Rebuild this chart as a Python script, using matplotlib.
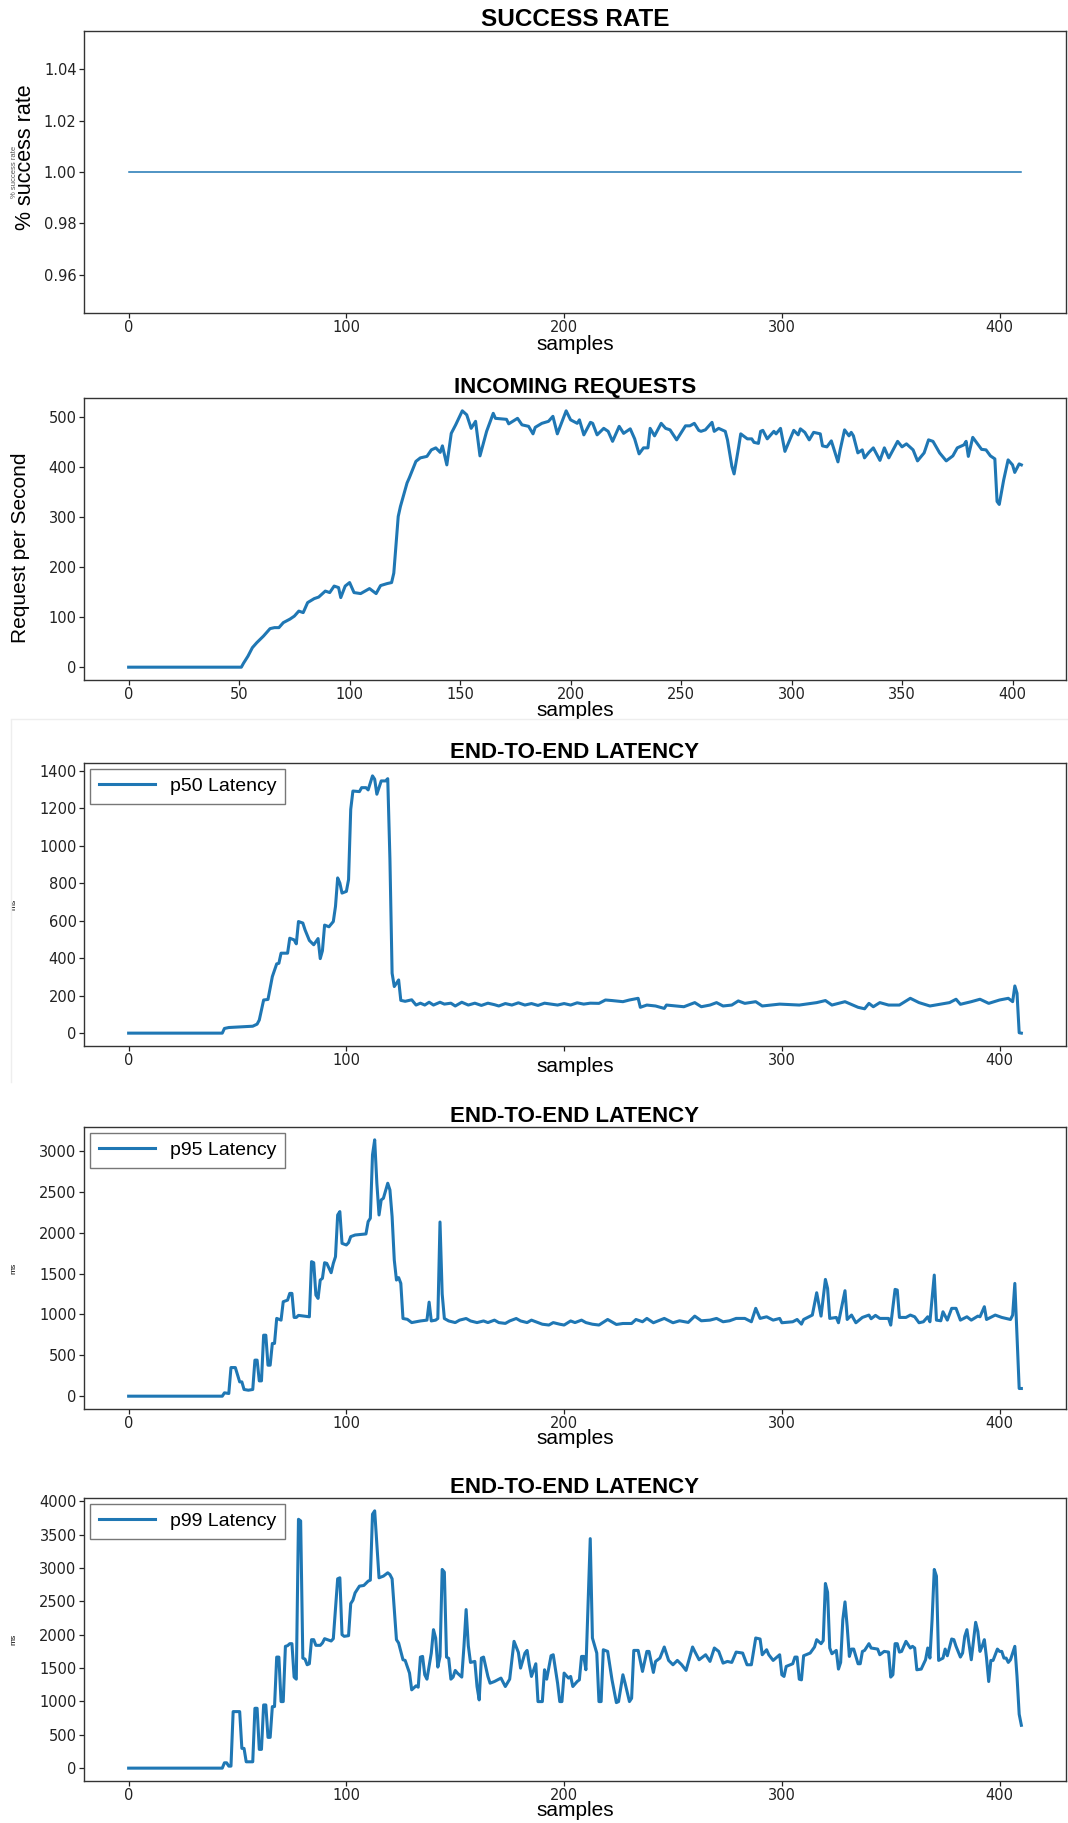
import matplotlib.pyplot as plt
from matplotlib.lines import Line2D

# success rate (flat at 1.0 across all samples)
success_x = [0, 410]
success_y = [1.0, 1.0]

# incoming requests per second
req_x = [0, 51, 52, 54, 56, 58, 61, 64, 66, 68, 70, 73, 75, 77, 79, 81, 84, 86, 89, 91,
         93, 95, 96, 98, 100, 102, 105, 109, 112, 114, 117, 119, 120, 122, 123, 126, 127, 130, 132, 135,
         137, 139, 141, 142, 144, 146, 148, 151, 153, 155, 157, 159, 162, 165, 166, 171, 172, 176, 178, 181,
         183, 184, 187, 190, 192, 194, 198, 200, 203, 204, 206, 209, 210, 212, 215, 217, 219, 222, 224, 227,
         229, 231, 233, 235, 236, 238, 241, 243, 245, 248, 252, 254, 256, 258, 259, 261, 264, 265, 267, 270,
         271, 273, 274, 276, 277, 280, 282, 283, 285, 286, 287, 289, 292, 293, 295, 297, 301, 303, 304, 306,
         308, 310, 313, 314, 316, 318, 321, 322, 324, 326, 327, 328, 330, 332, 333, 335, 337, 340, 342, 344,
         348, 350, 352, 355, 357, 360, 362, 364, 367, 370, 373, 375, 378, 379, 380, 382, 384, 386, 388, 390,
         392, 393, 394, 396, 398, 400, 401, 403, 404]
req_y = [0, 0, 8, 22, 39, 49, 62, 77, 79, 79, 89, 96, 102, 112, 109, 129, 137, 140, 152, 149,
         162, 159, 139, 162, 169, 149, 147, 157, 147, 163, 167, 169, 188, 301, 321, 368, 378, 411, 418, 421,
         434, 438, 429, 442, 404, 467, 484, 512, 504, 477, 491, 422, 471, 507, 497, 495, 486, 497, 484, 481,
         466, 479, 487, 491, 501, 466, 512, 494, 487, 494, 464, 489, 487, 464, 477, 471, 451, 481, 467, 476,
         456, 426, 438, 438, 477, 462, 487, 477, 474, 454, 482, 482, 487, 473, 471, 474, 489, 471, 477, 471,
         454, 401, 386, 438, 466, 456, 456, 449, 447, 471, 473, 456, 471, 466, 477, 431, 473, 464, 476, 469,
         454, 469, 466, 442, 440, 452, 410, 434, 474, 462, 469, 462, 428, 434, 418, 429, 438, 413, 438, 418,
         451, 440, 446, 434, 412, 428, 454, 451, 428, 412, 422, 438, 444, 451, 421, 459, 447, 435, 434, 422,
         416, 331, 325, 374, 414, 404, 389, 406, 404]

# p50 latency (ms)
p50_x = [0, 43, 44, 46, 57, 59, 60, 62, 64, 66, 68, 69, 70, 73, 74, 76, 77, 78, 80, 81,
         83, 85, 87, 88, 89, 90, 92, 94, 95, 96, 97, 98, 100, 101, 102, 103, 106, 107, 109, 110,
         112, 113, 114, 116, 118, 119, 120, 121, 122, 124, 125, 127, 130, 132, 134, 136, 138, 140, 143, 145,
         148, 150, 153, 156, 159, 162, 165, 168, 170, 173, 176, 179, 182, 185, 188, 191, 194, 197, 200, 203,
         206, 209, 212, 216, 219, 222, 227, 230, 234, 235, 238, 242, 246, 247, 255, 260, 263, 267, 270, 273,
         277, 280, 283, 288, 291, 299, 308, 316, 320, 323, 329, 335, 338, 340, 342, 345, 349, 354, 359, 363,
         368, 377, 380, 382, 387, 391, 395, 400, 404, 406, 407, 408, 409, 410]
p50_y = [0, 0, 25, 30, 37, 48, 70, 177, 180, 302, 370, 373, 427, 427, 507, 498, 477, 596, 588, 552,
         495, 472, 505, 398, 440, 577, 568, 596, 677, 829, 802, 748, 757, 820, 1195, 1293, 1290, 1311, 1311, 1299,
         1374, 1356, 1276, 1347, 1347, 1359, 930, 320, 249, 284, 175, 170, 178, 150, 160, 150, 165, 150, 165, 155,
         160, 145, 165, 150, 160, 148, 160, 152, 145, 158, 150, 162, 150, 158, 148, 160, 155, 150, 158, 150,
         162, 155, 160, 159, 177, 174, 168, 177, 186, 138, 150, 145, 132, 150, 141, 163, 141, 150, 163, 145,
         150, 172, 159, 168, 145, 155, 150, 163, 174, 150, 168, 138, 130, 159, 141, 163, 150, 150, 186, 163,
         145, 163, 181, 154, 168, 181, 159, 177, 186, 168, 252, 213, 2, 0]

# p95 latency (ms)
p95_x = [0, 43, 44, 46, 47, 49, 51, 52, 53, 55, 57, 58, 59, 60, 61, 62, 63, 64, 65, 66,
         67, 68, 70, 71, 73, 74, 75, 76, 77, 78, 83, 84, 85, 86, 87, 88, 89, 90, 91, 93,
         94, 95, 96, 97, 98, 100, 101, 102, 104, 109, 110, 111, 112, 113, 114, 115, 116, 117, 119, 120,
         121, 122, 123, 124, 125, 126, 128, 130, 132, 134, 137, 138, 139, 141, 142, 143, 144, 145, 147, 150,
         152, 155, 157, 160, 163, 165, 168, 170, 173, 175, 178, 180, 183, 185, 188, 190, 193, 195, 198, 200,
         203, 205, 208, 210, 213, 216, 220, 224, 227, 231, 233, 236, 238, 241, 246, 250, 253, 257, 260, 263,
         267, 270, 273, 276, 279, 283, 286, 288, 290, 293, 296, 299, 300, 305, 307, 309, 310, 314, 316, 318,
         320, 321, 322, 325, 326, 329, 330, 332, 334, 337, 340, 341, 343, 345, 349, 350, 352, 353, 354, 357,
         359, 361, 363, 365, 367, 368, 370, 371, 373, 374, 376, 378, 380, 382, 385, 387, 390, 391, 393, 394,
         398, 401, 405, 406, 407, 409, 410]
p95_y = [0, 0, 41, 33, 350, 350, 175, 175, 82, 73, 82, 441, 441, 187, 187, 746, 746, 379, 379, 645,
         645, 951, 930, 1155, 1175, 1257, 1257, 963, 963, 988, 971, 1645, 1632, 1236, 1196, 1420, 1441, 1632, 1624, 1510,
         1624, 1706, 2216, 2257, 1869, 1849, 1877, 1951, 1971, 1984, 2135, 2176, 2951, 3135, 2604, 2216, 2400, 2420, 2604, 2522,
         2196, 1665, 1420, 1450, 1380, 950, 940, 900, 910, 920, 930, 1150, 920, 930, 950, 2130, 1250, 950, 920, 900,
         930, 950, 920, 900, 920, 900, 930, 900, 890, 920, 950, 920, 900, 930, 900, 880, 870, 900, 880, 870,
         920, 900, 930, 900, 880, 870, 938, 877, 889, 889, 938, 910, 951, 898, 951, 898, 922, 902, 979, 922,
         930, 951, 910, 922, 951, 951, 910, 1074, 951, 971, 930, 951, 898, 910, 938, 881, 938, 992, 1265, 979,
         1428, 1318, 951, 963, 898, 1290, 938, 992, 898, 963, 992, 947, 988, 951, 951, 869, 1306, 1298, 963, 963,
         992, 971, 898, 910, 971, 910, 1481, 930, 922, 1032, 930, 1074, 1074, 930, 971, 930, 979, 971, 1094, 938,
         992, 963, 938, 992, 1379, 94, 94]

# p99 latency (ms)
p99_x = [0, 43, 44, 45, 46, 47, 48, 51, 52, 53, 54, 57, 58, 59, 60, 61, 62, 63, 64, 65,
         66, 67, 68, 69, 70, 71, 72, 73, 74, 75, 76, 77, 78, 79, 80, 81, 82, 83, 84, 85,
         86, 88, 89, 90, 93, 94, 96, 97, 98, 99, 101, 102, 103, 104, 106, 108, 110, 111, 112, 113,
         115, 117, 119, 120, 121, 123, 124, 126, 127, 129, 130, 132, 133, 134, 135, 136, 137, 139, 140, 141,
         142, 143, 144, 145, 146, 147, 148, 149, 150, 151, 153, 154, 155, 156, 157, 159, 160, 161, 162, 163,
         165, 166, 168, 170, 171, 173, 175, 177, 179, 180, 182, 183, 184, 185, 187, 188, 190, 191, 192, 194,
         195, 197, 198, 199, 200, 202, 203, 204, 206, 207, 208, 209, 210, 212, 213, 215, 216, 217, 218, 220,
         222, 224, 225, 227, 228, 230, 231, 232, 234, 236, 238, 239, 241, 242, 244, 246, 248, 250, 252, 254,
         256, 259, 260, 262, 265, 267, 269, 271, 273, 275, 277, 279, 282, 284, 286, 288, 290, 291, 293, 294,
         296, 299, 300, 301, 302, 305, 306, 307, 308, 309, 310, 313, 315, 316, 318, 319, 320, 321, 322, 323,
         325, 326, 327, 328, 329, 330, 331, 332, 333, 335, 336, 337, 338, 340, 341, 344, 345, 347, 349, 350,
         351, 352, 353, 354, 355, 357, 359, 360, 361, 362, 364, 366, 367, 368, 369, 370, 371, 372, 374, 375,
         376, 378, 379, 380, 382, 383, 384, 385, 386, 387, 389, 390, 391, 392, 393, 394, 395, 396, 397, 399,
         400, 401, 402, 403, 404, 405, 407, 408, 409, 410]
p99_y = [0, 0, 80, 80, 30, 30, 847, 847, 296, 296, 95, 95, 897, 897, 281, 281, 947, 947, 461, 461,
         922, 922, 1664, 1664, 997, 997, 1825, 1835, 1865, 1865, 1364, 1333, 3729, 3704, 1649, 1634, 1549, 1564, 1925, 1925,
         1840, 1840, 1875, 1940, 1905, 1940, 2837, 2852, 2000, 1975, 1985, 2466, 2516, 2626, 2727, 2737, 2802, 2817, 3805, 3855,
         2852, 2877, 2927, 2900, 2837, 1925, 1875, 1624, 1614, 1424, 1173, 1233, 1213, 1664, 1674, 1399, 1333, 1724, 2075, 1950,
         1514, 1674, 2977, 2937, 1664, 1644, 1333, 1364, 1464, 1424, 1364, 1825, 2376, 1835, 1584, 1599, 1223, 1022, 1649, 1664,
         1374, 1273, 1298, 1333, 1349, 1223, 1333, 1900, 1734, 1499, 1724, 1764, 1549, 1374, 1564, 997, 997, 1474, 1333, 1684,
         1699, 1273, 997, 997, 1424, 1349, 1374, 1223, 1298, 1323, 1674, 1674, 1474, 3439, 1950, 1724, 997, 997, 1774, 1749,
         1323, 982, 997, 1399, 1273, 997, 1047, 1764, 1764, 1449, 1749, 1749, 1434, 1599, 1649, 1815, 1614, 1549, 1614, 1549,
         1464, 1815, 1749, 1624, 1699, 1599, 1800, 1749, 1574, 1599, 1584, 1739, 1724, 1549, 1549, 1950, 1935, 1699, 1774, 1699,
         1614, 1699, 1399, 1374, 1524, 1564, 1664, 1664, 1333, 1323, 1684, 1724, 1815, 1925, 1865, 1910, 2767, 2636, 1800, 1714,
         1764, 1484, 1584, 2225, 2491, 2125, 1674, 1784, 1784, 1564, 1564, 1749, 1764, 1865, 1800, 1784, 1699, 1749, 1739, 1364,
         1399, 1865, 1865, 1739, 1749, 1900, 1800, 1825, 1800, 1474, 1484, 1624, 1800, 1649, 2225, 2977, 2877, 1614, 1649, 1784,
         1684, 1935, 1925, 1825, 1664, 1724, 1975, 2075, 1850, 1624, 2185, 2050, 1749, 1825, 1925, 1649, 1298, 1614, 1614, 1784,
         1749, 1749, 1649, 1649, 1584, 1624, 1825, 1374, 807, 642]

# x tick labels (the "200" of the p50 panel is hidden by its axis label in the reference)
ticks_100 = [0, 100, 200, 300, 400]
ticks_50 = [0, 50, 100, 150, 200, 250, 300, 350, 400]
p50_tick_labels = ['0', '100', '', '300', '400']

plt.rcParams['font.family'] = ['Liberation Sans', 'DejaVu Sans']

W, H = 1068, 1823
fig = plt.figure(figsize=(W / 100, H / 100), dpi=100)
blue = '#1f77b4'


def panel(top, bottom):
    ax = fig.add_axes([84 / W, 1 - bottom / H, (1066 - 84) / W, (bottom - top) / H])
    ax.tick_params(labelfontfamily='DejaVu Sans', labelsize=10.5, length=3.8, width=0.9,
                   pad=1.5, colors='#222222')
    for s in ax.spines.values():
        s.set_color('#333333')
        s.set_linewidth(1.0)
    return ax


def xlab(ax, px_below):
    ax.set_xlabel('samples', fontsize=15)
    h = ax.get_position().height * H
    ax.xaxis.set_label_coords(0.5, -px_below / h)
    ax.xaxis.label.set_va('center')


def ylab(ax, text, size, x_px, y_px, top, bottom):
    ax.set_ylabel(text, fontsize=size)
    ax.yaxis.set_label_coords((x_px - 84) / 982, (bottom - y_px) / (bottom - top))
    ax.yaxis.label.set_va('center')


def leg(ax, label):
    ax.legend([label], loc='upper left', fontsize=14, fancybox=False, framealpha=1,
              edgecolor='#777777', handlelength=2.9, handletextpad=0.75, borderpad=0.45,
              borderaxespad=0.3)


# 1. success rate
ax1 = panel(31, 313)
ax1.plot(success_x, success_y, color=blue, lw=1.1)
ax1.set_xlim(-20.5, 430.5)
ax1.set_title('SUCCESS RATE', fontsize=17.5, fontweight='bold', pad=3)
xlab(ax1, 31)
ylab(ax1, '% success rate', 15.5, 26, 157, 31, 313)
ax1.text((15 - 84) / 982, 0.5, '% success rate', rotation=90, fontsize=5.5,
         color='#555555', ha='center', va='center', transform=ax1.transAxes)

# 2. incoming requests
ax2 = panel(398, 680)
ax2.plot(req_x, req_y, color=blue, lw=2.2)
ax2.set_xlim(-20.2, 424.2)
ax2.set_xticks(ticks_50)
ax2.set_yticks([0, 100, 200, 300, 400, 500])
ax2.set_title('INCOMING REQUESTS', fontsize=16, fontweight='bold', pad=3)
xlab(ax2, 30)
ylab(ax2, 'Request per Second', 15, 20, 548, 398, 680)

# 3-5. latency panels
lat = [(p50_x, p50_y, 'p50 Latency', 763, 1046, 21, p50_tick_labels),
       (p95_x, p95_y, 'p95 Latency', 1127, 1409, 29, None),
       (p99_x, p99_y, 'p99 Latency', 1498, 1781, 30, None)]
for xs, ys, name, top, bottom, lab_off, tlabels in lat:
    ax = panel(top, bottom)
    ax.plot(xs, ys, color=blue, lw=2.2)
    ax.set_xlim(-20.5, 430.5)
    ax.set_xticks(ticks_100)
    if tlabels:
        ax.set_xticklabels(tlabels)
    ax.set_title('END-TO-END LATENCY', fontsize=16, fontweight='bold', pad=3)
    xlab(ax, lab_off)
    ylab(ax, 'ms', 6, 14, (top + bottom) / 2, top, bottom)
    leg(ax, name)

# faint screenshot seams
fig.add_artist(Line2D([0.01, 1], [1 - 719 / H] * 2, transform=fig.transFigure,
                      color='#eeeeee', lw=1))
fig.add_artist(Line2D([11 / W] * 2, [1 - 1082 / H, 1 - 720 / H], transform=fig.transFigure,
                      color='#eeeeee', lw=1))

fig.savefig('out.png', dpi=100)
